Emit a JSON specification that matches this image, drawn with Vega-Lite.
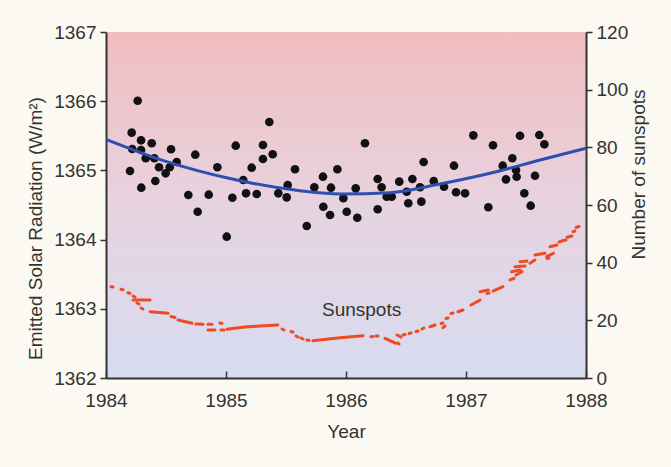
{
  "$schema": "https://vega.github.io/schema/vega-lite/v6.json",
  "width": 480,
  "height": 346,
  "autosize": {"type": "none"},
  "padding": {"left": 106, "top": 32, "right": 85, "bottom": 89},
  "background": "#fbf9f1",
  "config": {
    "view": {
      "stroke": null,
      "fill": {
        "gradient": "linear",
        "x1": 0, "y1": 0, "x2": 0, "y2": 1,
        "stops": [
          {"offset": 0, "color": "#f1bdbf"},
          {"offset": 0.5, "color": "#e7d3e0"},
          {"offset": 1, "color": "#d7dcf0"}
        ]
      }
    },
    "axis": {
      "grid": false,
      "labelFlush": false,
      "domainColor": "#333333",
      "domainWidth": 2,
      "tickColor": "#333333",
      "tickWidth": 1.5,
      "labelFont": "Liberation Sans",
      "labelFontSize": 19,
      "labelColor": "#333333",
      "titleFont": "Liberation Sans",
      "titleFontSize": 19,
      "titleFontWeight": "normal",
      "titleColor": "#333333"
    }
  },
  "datasets": {
    "radiation": [
      {"year": 1984.264, "rad": 1366.007}, {"year": 1984.214, "rad": 1365.545}, {"year": 1984.292, "rad": 1365.435},
      {"year": 1984.381, "rad": 1365.392}, {"year": 1984.219, "rad": 1365.309}, {"year": 1984.292, "rad": 1365.295},
      {"year": 1984.331, "rad": 1365.175}, {"year": 1984.403, "rad": 1365.175}, {"year": 1984.542, "rad": 1365.305},
      {"year": 1984.589, "rad": 1365.121}, {"year": 1984.442, "rad": 1365.045}, {"year": 1984.531, "rad": 1365.045},
      {"year": 1984.497, "rad": 1364.958}, {"year": 1984.2, "rad": 1364.991}, {"year": 1984.294, "rad": 1364.75},
      {"year": 1984.411, "rad": 1364.847}, {"year": 1984.744, "rad": 1365.227}, {"year": 1984.686, "rad": 1364.645},
      {"year": 1984.764, "rad": 1364.403}, {"year": 1984.856, "rad": 1364.649}, {"year": 1984.928, "rad": 1365.045},
      {"year": 1985.006, "rad": 1364.042}, {"year": 1985.053, "rad": 1364.605}, {"year": 1985.081, "rad": 1365.357},
      {"year": 1985.144, "rad": 1364.861}, {"year": 1985.167, "rad": 1364.669}, {"year": 1985.214, "rad": 1365.039},
      {"year": 1985.256, "rad": 1364.659}, {"year": 1985.308, "rad": 1365.367}, {"year": 1985.308, "rad": 1365.165},
      {"year": 1985.361, "rad": 1365.699}, {"year": 1985.389, "rad": 1365.233}, {"year": 1985.436, "rad": 1364.669},
      {"year": 1985.506, "rad": 1364.611}, {"year": 1985.514, "rad": 1364.789}, {"year": 1985.575, "rad": 1365.016},
      {"year": 1985.673, "rad": 1364.197}, {"year": 1985.736, "rad": 1364.756}, {"year": 1985.808, "rad": 1364.909},
      {"year": 1985.875, "rad": 1364.75}, {"year": 1985.811, "rad": 1364.475}, {"year": 1985.867, "rad": 1364.355},
      {"year": 1985.928, "rad": 1365.016}, {"year": 1985.978, "rad": 1364.597}, {"year": 1986.006, "rad": 1364.403},
      {"year": 1986.081, "rad": 1364.741}, {"year": 1986.094, "rad": 1364.316}, {"year": 1986.158, "rad": 1365.392},
      {"year": 1986.264, "rad": 1364.876}, {"year": 1986.297, "rad": 1364.756}, {"year": 1986.264, "rad": 1364.438},
      {"year": 1986.339, "rad": 1364.62}, {"year": 1986.381, "rad": 1364.62}, {"year": 1986.444, "rad": 1364.837},
      {"year": 1986.506, "rad": 1364.692}, {"year": 1986.519, "rad": 1364.525}, {"year": 1986.553, "rad": 1364.876},
      {"year": 1986.617, "rad": 1364.756}, {"year": 1986.628, "rad": 1364.548}, {"year": 1986.647, "rad": 1365.121},
      {"year": 1986.731, "rad": 1364.847}, {"year": 1986.817, "rad": 1364.764}, {"year": 1986.9, "rad": 1365.068},
      {"year": 1986.917, "rad": 1364.684}, {"year": 1986.992, "rad": 1364.669}, {"year": 1987.061, "rad": 1365.507},
      {"year": 1987.186, "rad": 1364.467}, {"year": 1987.225, "rad": 1365.363}, {"year": 1987.306, "rad": 1365.068},
      {"year": 1987.333, "rad": 1364.871}, {"year": 1987.386, "rad": 1365.175}, {"year": 1987.417, "rad": 1365.006},
      {"year": 1987.422, "rad": 1364.909}, {"year": 1987.45, "rad": 1365.501}, {"year": 1987.486, "rad": 1364.669},
      {"year": 1987.539, "rad": 1364.49}, {"year": 1987.575, "rad": 1364.923}, {"year": 1987.611, "rad": 1365.512},
      {"year": 1987.653, "rad": 1365.377}
    ],
    "fit": [
      {"year": 1984.0, "rad": 1365.449}, {"year": 1984.506, "rad": 1365.126}, {"year": 1985.061, "rad": 1364.871},
      {"year": 1985.617, "rad": 1364.707}, {"year": 1985.95, "rad": 1364.659}, {"year": 1986.367, "rad": 1364.678},
      {"year": 1986.783, "rad": 1364.803}, {"year": 1987.2, "rad": 1364.958}, {"year": 1987.617, "rad": 1365.15},
      {"year": 1988.0, "rad": 1365.319}
    ],
    "sunspots": [
      {"seg": 1, "year": 1984.042, "spots": 31.66}, {"seg": 1, "year": 1984.058, "spots": 31.56},
      {"seg": 2, "year": 1984.125, "spots": 30.76}, {"seg": 2, "year": 1984.142, "spots": 30.62},
      {"seg": 3, "year": 1984.183, "spots": 29.58}, {"seg": 3, "year": 1984.2, "spots": 29.38},
      {"seg": 4, "year": 1984.225, "spots": 28.44}, {"seg": 4, "year": 1984.242, "spots": 28.09},
      {"seg": 5, "year": 1984.225, "spots": 27.05}, {"seg": 5, "year": 1984.367, "spots": 27.05},
      {"seg": 6, "year": 1984.258, "spots": 26.01}, {"seg": 6, "year": 1984.275, "spots": 25.66},
      {"seg": 7, "year": 1984.292, "spots": 24.28}, {"seg": 7, "year": 1984.308, "spots": 23.93},
      {"seg": 8, "year": 1984.367, "spots": 22.99}, {"seg": 8, "year": 1984.517, "spots": 22.44},
      {"seg": 9, "year": 1984.542, "spots": 21.33}, {"seg": 9, "year": 1984.575, "spots": 20.98},
      {"seg": 10, "year": 1984.6, "spots": 20.12}, {"seg": 10, "year": 1984.717, "spots": 18.97},
      {"seg": 11, "year": 1984.75, "spots": 18.73}, {"seg": 11, "year": 1984.808, "spots": 18.62},
      {"seg": 12, "year": 1984.85, "spots": 18.62}, {"seg": 12, "year": 1984.883, "spots": 18.62},
      {"seg": 13, "year": 1984.85, "spots": 16.65}, {"seg": 13, "year": 1984.908, "spots": 16.65},
      {"seg": 14, "year": 1984.95, "spots": 19.08}, {"seg": 14, "year": 1984.967, "spots": 18.9},
      {"seg": 15, "year": 1984.958, "spots": 16.65}, {"seg": 15, "year": 1984.983, "spots": 16.65},
      {"seg": 16, "year": 1985.008, "spots": 16.89}, {"seg": 16, "year": 1985.158, "spots": 17.69},
      {"seg": 16, "year": 1985.283, "spots": 18.03}, {"seg": 16, "year": 1985.433, "spots": 18.38},
      {"seg": 17, "year": 1985.467, "spots": 16.99}, {"seg": 17, "year": 1985.483, "spots": 16.65},
      {"seg": 18, "year": 1985.542, "spots": 16.13}, {"seg": 18, "year": 1985.558, "spots": 15.95},
      {"seg": 19, "year": 1985.583, "spots": 14.57}, {"seg": 19, "year": 1985.6, "spots": 14.22},
      {"seg": 20, "year": 1985.625, "spots": 13.87}, {"seg": 20, "year": 1985.642, "spots": 13.53},
      {"seg": 21, "year": 1985.675, "spots": 13.18}, {"seg": 21, "year": 1985.692, "spots": 13.01},
      {"seg": 22, "year": 1985.725, "spots": 12.94}, {"seg": 22, "year": 1985.95, "spots": 13.98},
      {"seg": 22, "year": 1986.142, "spots": 14.67},
      {"seg": 23, "year": 1986.208, "spots": 14.32}, {"seg": 23, "year": 1986.225, "spots": 14.39},
      {"seg": 24, "year": 1986.25, "spots": 14.57}, {"seg": 24, "year": 1986.267, "spots": 14.57},
      {"seg": 25, "year": 1986.325, "spots": 13.77}, {"seg": 25, "year": 1986.417, "spots": 12.03},
      {"seg": 26, "year": 1986.433, "spots": 12.14}, {"seg": 26, "year": 1986.442, "spots": 11.79},
      {"seg": 27, "year": 1986.425, "spots": 14.91}, {"seg": 27, "year": 1986.458, "spots": 14.22},
      {"seg": 28, "year": 1986.475, "spots": 14.91}, {"seg": 28, "year": 1986.492, "spots": 15.09},
      {"seg": 29, "year": 1986.525, "spots": 15.43}, {"seg": 29, "year": 1986.542, "spots": 15.61},
      {"seg": 30, "year": 1986.583, "spots": 16.13}, {"seg": 30, "year": 1986.6, "spots": 16.3},
      {"seg": 31, "year": 1986.633, "spots": 16.99}, {"seg": 31, "year": 1986.65, "spots": 17.34},
      {"seg": 32, "year": 1986.7, "spots": 17.79}, {"seg": 32, "year": 1986.742, "spots": 18.38},
      {"seg": 33, "year": 1986.792, "spots": 18.9}, {"seg": 33, "year": 1986.808, "spots": 19.08},
      {"seg": 34, "year": 1986.808, "spots": 17.45}, {"seg": 34, "year": 1986.825, "spots": 18.03},
      {"seg": 35, "year": 1986.833, "spots": 20.64}, {"seg": 35, "year": 1986.85, "spots": 20.81},
      {"seg": 36, "year": 1986.875, "spots": 22.37}, {"seg": 36, "year": 1986.892, "spots": 22.54},
      {"seg": 37, "year": 1986.933, "spots": 22.99}, {"seg": 37, "year": 1986.975, "spots": 23.58},
      {"seg": 38, "year": 1987.042, "spots": 25.32}, {"seg": 38, "year": 1987.117, "spots": 27.05},
      {"seg": 39, "year": 1987.175, "spots": 29.31}, {"seg": 39, "year": 1987.192, "spots": 29.48},
      {"seg": 40, "year": 1987.225, "spots": 30.17}, {"seg": 40, "year": 1987.308, "spots": 31.66},
      {"seg": 41, "year": 1987.367, "spots": 33.99}, {"seg": 41, "year": 1987.4, "spots": 34.58},
      {"seg": 42, "year": 1987.417, "spots": 35.72}, {"seg": 42, "year": 1987.467, "spots": 36.87},
      {"seg": 43, "year": 1987.408, "spots": 38.6}, {"seg": 43, "year": 1987.492, "spots": 38.84},
      {"seg": 44, "year": 1987.45, "spots": 40.33}, {"seg": 44, "year": 1987.508, "spots": 40.58},
      {"seg": 45, "year": 1987.533, "spots": 39.78}, {"seg": 45, "year": 1987.575, "spots": 40.92},
      {"seg": 46, "year": 1987.575, "spots": 42.66}, {"seg": 46, "year": 1987.658, "spots": 43.25},
      {"seg": 47, "year": 1987.675, "spots": 41.44}, {"seg": 47, "year": 1987.692, "spots": 41.62},
      {"seg": 48, "year": 1987.7, "spots": 45.54}, {"seg": 48, "year": 1987.758, "spots": 46.13},
      {"seg": 49, "year": 1987.775, "spots": 47.17}, {"seg": 49, "year": 1987.792, "spots": 47.34},
      {"seg": 50, "year": 1987.8, "spots": 47.62}, {"seg": 50, "year": 1987.833, "spots": 47.86},
      {"seg": 51, "year": 1987.842, "spots": 48.8}, {"seg": 51, "year": 1987.883, "spots": 49.25},
      {"seg": 52, "year": 1987.892, "spots": 50.74}, {"seg": 52, "year": 1987.908, "spots": 50.98},
      {"seg": 53, "year": 1987.917, "spots": 52.2}, {"seg": 53, "year": 1987.942, "spots": 52.54},
      {"seg": 54, "year": 1987.672, "spots": 42.07}, {"seg": 54, "year": 1987.728, "spots": 43.25},
      {"seg": 55, "year": 1987.38, "spots": 36.87}, {"seg": 55, "year": 1987.45, "spots": 37.46},
      {"seg": 56, "year": 1987.117, "spots": 29.93}, {"seg": 56, "year": 1987.186, "spots": 30.52}
    ],
    "label": [{"year": 1986.13, "spots": 23.6, "text": "Sunspots"}]
  },
  "encoding": {
    "x": {
      "field": "year",
      "type": "quantitative",
      "scale": {"domain": [1984, 1988], "nice": false},
      "axis": {
        "title": "Year",
        "values": [1984, 1985, 1986, 1987, 1988],
        "format": "d",
        "tickSize": -7,
        "labelPadding": 20,
        "titlePadding": 12
      }
    }
  },
  "layer": [
    {
      "encoding": {
        "y": {
          "field": "rad",
          "type": "quantitative",
          "scale": {"domain": [1362, 1367], "nice": false, "zero": false},
          "axis": {
            "orient": "left",
            "title": "Emitted Solar Radiation (W/m²)",
            "values": [1362, 1363, 1364, 1365, 1366, 1367],
            "format": "d",
            "tickSize": 6,
            "labelPadding": 4,
            "titleX": -71,
            "titleY": 196,
            "titleBaseline": "middle",
            "titleAngle": 270
          }
        }
      },
      "layer": [
        {
          "data": {"name": "radiation"},
          "mark": {"type": "point", "filled": true, "size": 75, "color": "#111111", "opacity": 1}
        },
        {
          "data": {"name": "fit"},
          "mark": {"type": "line", "interpolate": "monotone", "color": "#2f4fb0", "strokeWidth": 3}
        }
      ]
    },
    {
      "encoding": {
        "y": {
          "field": "spots",
          "type": "quantitative",
          "scale": {"domain": [0, 120], "nice": false},
          "axis": {
            "orient": "right",
            "title": "Number of sunspots",
            "values": [0, 20, 40, 60, 80, 100, 120],
            "tickSize": 6,
            "labelPadding": 4,
            "titleX": 52,
            "titleY": 142,
            "titleBaseline": "middle",
            "titleAngle": 270
          }
        }
      },
      "layer": [
        {
          "data": {"name": "sunspots"},
          "mark": {"type": "line", "color": "#ef4b23", "strokeWidth": 3, "strokeCap": "round"},
          "encoding": {"detail": {"field": "seg", "type": "nominal"}}
        },
        {
          "data": {"name": "label"},
          "mark": {"type": "text", "font": "Liberation Sans", "fontSize": 19, "color": "#333333"},
          "encoding": {"text": {"field": "text"}}
        }
      ]
    }
  ],
  "resolve": {"scale": {"y": "independent"}}
}
